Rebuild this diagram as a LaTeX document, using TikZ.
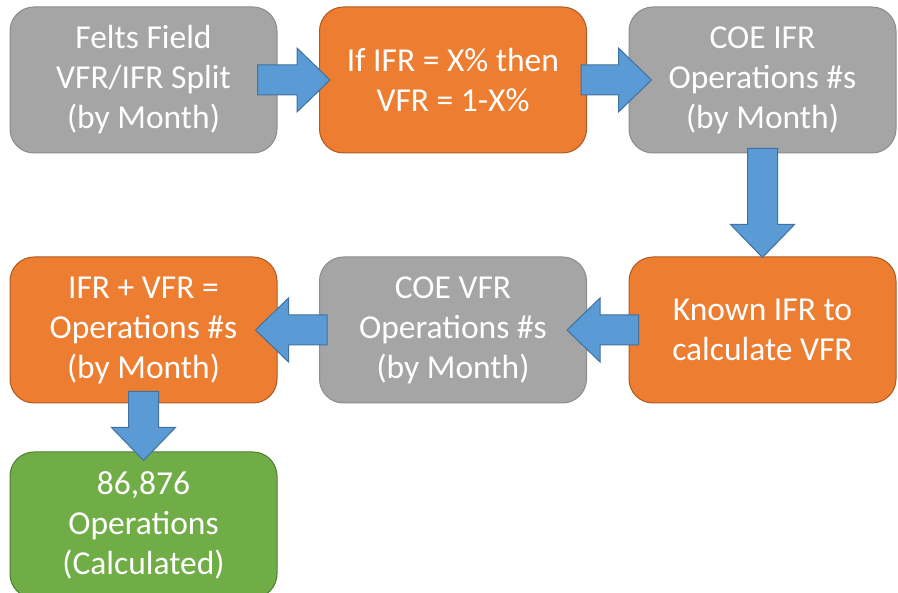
\documentclass[tikz,border=0pt]{standalone}
\usepackage{fontspec}
\setmainfont{Carlito}
\usetikzlibrary{positioning}
\usetikzlibrary{calc}
\usepackage{xcolor}

\definecolor{greyfill}{HTML}{A5A5A5}
\definecolor{greyline}{HTML}{8C8C8C}
\definecolor{orangefill}{HTML}{ED7D31}
\definecolor{orangeline}{HTML}{AE5A21}
\definecolor{greenfill}{HTML}{70AD47}
\definecolor{greenline}{HTML}{507E32}
\definecolor{bluefill}{HTML}{5B9BD5}
\definecolor{blueline}{HTML}{41719C}

\newcommand{\flowarrow}[2]{%
  \coordinate (tl) at (#1);
  \coordinate (tp) at (#2);
  \coordinate (hd) at ($(tp)!33pt!(tl)$);
  \draw[blockarrow] ($(tl)!15pt!90:(tp)$) -- ($(hd)!15pt!-90:(tl)$) -- ($(hd)!32pt!-90:(tl)$) -- (tp)
    -- ($(hd)!32pt!90:(tl)$) -- ($(hd)!15pt!90:(tl)$) -- ($(tl)!15pt!-90:(tp)$) -- cycle;
}

\begin{document}
\begin{tikzpicture}[x=1pt, y=-1pt, node distance=103pt and 41.5pt,
    box/.style={rounded corners=24pt, minimum width=267pt, minimum height=146pt, inner sep=0pt,
        align=center, text=white, line width=1pt, font=\fontsize{33.5}{40}\selectfont},
    greybox/.style={box, fill=greyfill, draw=greyline},
    orangebox/.style={box, fill=orangefill, draw=orangeline},
    greenbox/.style={box, fill=greenfill, draw=greenline},
    blockarrow/.style={fill=bluefill, draw=blueline, line width=1pt, line join=miter}]
    \useasboundingbox (0,0) rectangle (898,593);
    \node[greybox] (felts) at (143.5,80) {Felts Field\\VFR/IFR Split\\(by Month)};
    \node[orangebox, right=of felts] (split) {If IFR = X\% then\\VFR = 1-X\%};
    \node[greybox, right=of split] (coeifr) {COE IFR\\Operations \#s\\(by Month)};
    \node[orangebox, below=of coeifr] (known) {Known IFR to\\calculate VFR};
    \node[greybox, left=of known] (coevfr) {COE VFR\\Operations \#s\\(by Month)};
    \node[orangebox, left=of coevfr] (total) {IFR + VFR =\\Operations \#s\\(by Month)};
    \node[greenbox, below=48pt of total] (result) {86,876\\Operations\\(Calculated)};
    % block arrows between the steps
    \flowarrow{[xshift=-20pt]felts.east}{[xshift=11pt]split.west}
    \flowarrow{[xshift=-6pt]split.east}{[xshift=23pt]coeifr.west}
    \flowarrow{[yshift=5pt]coeifr.south}{[yshift=-1pt]known.north}
    \flowarrow{[xshift=10pt]known.west}{[xshift=-20pt]coevfr.east}
    \flowarrow{[xshift=8pt]coevfr.west}{[xshift=-22pt]total.east}
    \flowarrow{[yshift=12pt]total.south}{[yshift=-9pt]result.north}
\end{tikzpicture}
\end{document}
